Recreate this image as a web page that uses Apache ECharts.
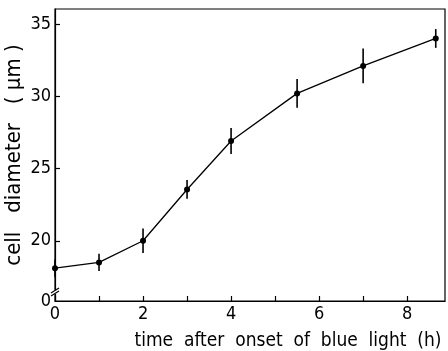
<!DOCTYPE html>
<html>
<head>
<meta charset="utf-8">
<script src="https://cdn.jsdelivr.net/npm/echarts@6/dist/echarts.min.js"></script>
<style>
  html, body { margin: 0; padding: 0; background: #fff; }
  #chart { width: 448px; height: 351px; }
</style>
</head>
<body>
<div id="chart"></div>
<script>
// hours after blue light switched on
var time = [0, 1, 2, 3, 4, 5.5, 7, 8.65];
// mean cell diameter (um)
var diameter = [18.1, 18.5, 20.0, 23.55, 26.9, 30.2, 32.1, 34.0];
// half length of the error bars
var errHalf = [0.6, 0.6, 0.85, 0.65, 0.9, 1.0, 1.2, 0.65];
var yTicks = [20, 25, 30, 35];
var xTicks = [0, 2, 4, 6, 8];

var yMin = 15.83, yMax = 36.04;
var font = "'DejaVu Sans Condensed', 'Liberation Sans Narrow', 'DejaVu Sans', sans-serif";

var lineData = time.map(function (t, i) { return [t, diameter[i]]; });
var errData = time.map(function (t, i) { return [t, diameter[i] - errHalf[i], diameter[i] + errHalf[i]]; });

var dom = document.getElementById('chart');
var myChart = echarts.init(dom, null, { renderer: 'canvas' });

var option = {
  animation: false,
  grid: {
    left: 55, right: 3, top: 9, bottom: 50,
    containLabel: false,
    outerBoundsMode: 'none',
    show: true,
    borderColor: '#000',
    borderWidth: 1.2
  },
  xAxis: {
    type: 'value',
    min: 0,
    max: 8.86,
    interval: 1,
    name: 'time  after  onset  of  blue  light  (h)',
    nameLocation: 'middle',
    nameGap: 31,
    nameMoveOverlap: false,
    nameTextStyle: { fontFamily: font, fontSize: 19, color: '#000', padding: [0, 0, 0, 76] },
    axisLine: { lineStyle: { color: '#000', width: 1.2 } },
    axisTick: { inside: true, length: 5, lineStyle: { color: '#000', width: 1.2 } },
    axisLabel: {
      fontFamily: font, fontSize: 18, color: '#000', margin: 4, showMaxLabel: false,
      formatter: function (v) { return xTicks.indexOf(v) >= 0 ? String(v) : ''; }
    },
    splitLine: { show: false }
  },
  yAxis: {
    type: 'value',
    min: yMin,
    max: yMax,
    name: 'cell   diameter   ( \u03bcm )',
    nameLocation: 'middle',
    nameGap: 30,
    nameMoveOverlap: false,
    nameRotate: 90,
    nameTextStyle: { fontFamily: font, fontSize: 22, color: '#000' },
    axisLine: { lineStyle: { color: '#000', width: 1.2 } },
    axisTick: { inside: true, length: 5, customValues: yTicks, lineStyle: { color: '#000', width: 1.2 } },
    axisLabel: {
      fontFamily: font, fontSize: 18, color: '#000', margin: 4,
      customValues: [yMin].concat(yTicks),
      formatter: function (v) { return v === yMin ? '0' : String(v); }
    },
    splitLine: { show: false }
  },
  series: [
    {
      name: 'error',
      type: 'custom',
      data: errData,
      z: 3,
      renderItem: function (params, api) {
        var lo = api.coord([api.value(0), api.value(1)]);
        var hi = api.coord([api.value(0), api.value(2)]);
        return {
          type: 'line',
          shape: { x1: lo[0], y1: lo[1], x2: hi[0], y2: hi[1] },
          style: { stroke: '#000', lineWidth: 1.6 }
        };
      }
    },
    {
      name: 'diameter',
      type: 'line',
      data: lineData,
      z: 4,
      symbol: 'circle',
      symbolSize: 6,
      lineStyle: { color: '#000', width: 1.3 },
      itemStyle: { color: '#000' }
    },
    {
      // axis break mark on the y axis
      name: 'break',
      type: 'custom',
      data: [[0, 16.45]],
      clip: false,
      z: 5,
      renderItem: function (params, api) {
        var p = api.coord([api.value(0), api.value(1)]);
        return {
          type: 'group',
          children: [
            { type: 'rect', shape: { x: p[0] - 2, y: p[1] - 2, width: 4, height: 4 }, style: { fill: '#fff' } },
            { type: 'line', shape: { x1: p[0] - 4, y1: p[1] + 1, x2: p[0] + 4, y2: p[1] - 4 }, style: { stroke: '#000', lineWidth: 1.2 } },
            { type: 'line', shape: { x1: p[0] - 4, y1: p[1] + 4, x2: p[0] + 4, y2: p[1] - 1 }, style: { stroke: '#000', lineWidth: 1.2 } }
          ]
        };
      }
    }
  ]
};

myChart.setOption(option);
window.addEventListener('resize', myChart.resize);
</script>
</body>
</html>
